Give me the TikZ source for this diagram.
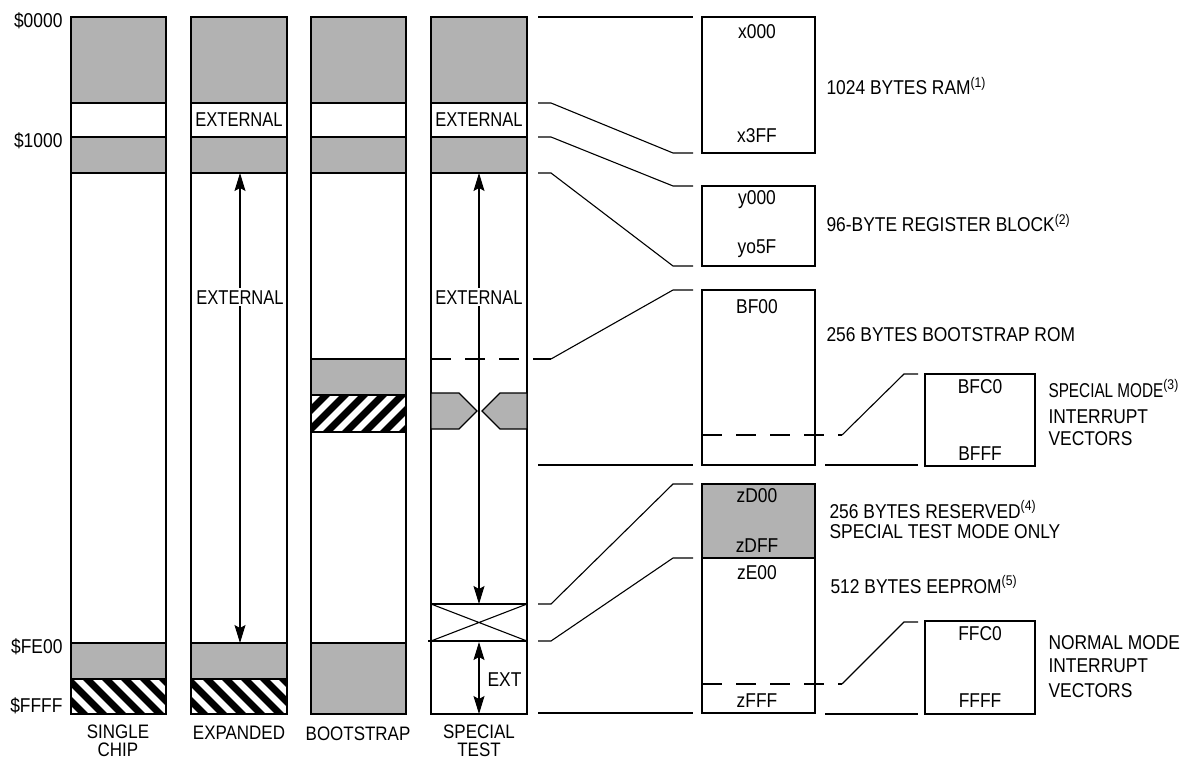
\documentclass[tikz,border=0pt]{standalone}
\usepackage{fontspec}
\usepackage{graphicx}
\setmainfont{Liberation Sans}[FakeStretch=0.87]
\usetikzlibrary{arrows.meta}
\definecolor{memgray}{gray}{0.70}
\begin{document}
\begin{tikzpicture}[x=1pt,y=-1pt, line width=1.1pt,
  lbl/.style={font=\fontsize{20}{24}\selectfont, inner sep=0pt, anchor=base},
  lblw/.style={lbl, anchor=base west},
  lble/.style={lbl, anchor=base east},
  ttl/.style={font=\fontsize{19.5}{18}\selectfont, inner sep=0pt, anchor=north, align=center},
  memfill/.style={fill=memgray},
  dsh/.style={dash pattern=on 20pt off 14pt},
  arr/.style={{Stealth[length=18pt,width=11pt,inset=3pt]}-{Stealth[length=18pt,width=11pt,inset=3pt]}},
  stripe/.style={line width=7pt, line cap=butt}]
\useasboundingbox (0,0) rectangle (1198,759);

% ---------- column 1: SINGLE CHIP ----------
\fill[memfill] (71,17) rectangle (166,103);
\fill[memfill] (71,137) rectangle (166,173);
\fill[memfill] (71,643) rectangle (166,679);
\begin{scope}
  \clip (71,679) rectangle (166,714);
  \foreach \i in {11,30,...,200} \draw[stripe] (\i-20,659) -- (\i+55,734);
\end{scope}
\draw (71,17) rectangle (166,714);
\foreach \yy in {103,137,173,643,679} \draw (71,\yy) -- (166,\yy);

% ---------- column 2: EXPANDED ----------
\fill[memfill] (191,17) rectangle (287,103);
\fill[memfill] (191,137) rectangle (287,173);
\fill[memfill] (191,643) rectangle (287,679);
\begin{scope}
  \clip (191,679) rectangle (287,714);
  \foreach \i in {131,150,...,320} \draw[stripe] (\i-20,659) -- (\i+55,734);
\end{scope}
\draw (191,17) rectangle (287,714);
\foreach \yy in {103,137,173,643,679} \draw (191,\yy) -- (287,\yy);
\node[lbl] (ext2a) at (239,127) {\scalebox{0.95}[1]{EXTERNAL}};
\coordinate (e2top) at (240,173);
\coordinate (e2bot) at (240,643);
\draw[arr] (e2top) -- (e2bot);
\node[lbl, fill=white, inner sep=2pt] (ext2b) at (240,304) {\scalebox{0.95}[1]{EXTERNAL}};

% ---------- column 3: BOOTSTRAP ----------
\fill[memfill] (311,17) rectangle (406,103);
\fill[memfill] (311,137) rectangle (406,173);
\fill[memfill] (311,359) rectangle (406,395);
\fill[memfill] (311,643) rectangle (406,714);
\begin{scope}
  \clip (311,395) rectangle (406,432);
  \foreach \i in {231,250,...,430} \draw[stripe] (\i,452) -- (\i+75,377);
\end{scope}
\draw (311,17) rectangle (406,714);
\foreach \yy in {103,137,173,359,395,432,643} \draw (311,\yy) -- (406,\yy);

% ---------- column 4: SPECIAL TEST ----------
\fill[memfill] (431,17) rectangle (527,103);
\fill[memfill] (431,137) rectangle (527,173);
\draw (431,17) rectangle (527,714);
\foreach \yy in {103,137,173,604} \draw (431,\yy) -- (527,\yy);
\draw (428,641) -- (527,641);
\draw (431,604) -- (527,641) (431,641) -- (527,604);
\node[lbl] (ext4a) at (479,127) {\scalebox{0.95}[1]{EXTERNAL}};
\draw[fill=memgray] (431,393) -- (459,393) -- (477,411) -- (459,429) -- (431,429) -- cycle;
\draw[fill=memgray] (527,393) -- (500,393) -- (482,411) -- (500,429) -- (527,429) -- cycle;
\coordinate (e4top) at (479,173);
\coordinate (e4bot) at (479,604);
\draw[arr] (e4top) -- (e4bot);
\node[lbl, fill=white, inner sep=2pt] (ext4b) at (479,304) {\scalebox{0.95}[1]{EXTERNAL}};
\coordinate (x4top) at (479,642);
\coordinate (x4bot) at (479,714);
\draw[arr] (x4top) -- (x4bot);
\node[lblw] (ext4c) at (487,686) {EXT};

% ---------- address labels ----------
\node[lble] (a0) at (63,28) {\$0000};
\node[lble] (a1) at (63,148) {\$1000};
\node[lble] (a2) at (63,653) {\$FE00};
\node[lble] (a3) at (63,712) {\$FFFF};

% ---------- column titles ----------
\node[ttl] (t1) at (118,724) {SINGLE\\CHIP};
\node[ttl] (t2) at (239,726) {EXPANDED};
\node[ttl] (t3) at (358,726) {BOOTSTRAP};
\node[ttl] (t4) at (479,724) {SPECIAL\\TEST};

% ---------- connector lines ----------
\draw (538,17) -- (693,17);
\draw (538,103) -- (551,103) -- (673,153) -- (693,153);
\draw (538,137) -- (551,137) -- (673,186) -- (693,186);
\draw (538,173) -- (551,173) -- (673,266) -- (693,266);
\draw[dsh] (431,359) -- (551,359);
\draw (551,359) -- (673,290) -- (693,290);
\draw (538,465) -- (693,465);
\draw (538,604) -- (551,604) -- (673,484) -- (693,484);
\draw (538,641) -- (551,641) -- (673,558) -- (693,558);
\draw (538,713) -- (693,713);

% ---------- detail boxes ----------
\draw (702,17) rectangle (815,153);
\node[lbl] (b1a) at (757,39) {x000};
\node[lbl] (b1b) at (757,143) {x3FF};

\draw (702,186) rectangle (815,266);
\node[lbl] (b2a) at (757,205) {y000};
\node[lbl] (b2b) at (757,253) {yo5F};

\draw (702,290) rectangle (815,465);
\node[lbl] (b3a) at (757,313) {BF00};
\draw[dsh] (702,435) -- (842,435);
\draw (842,435) -- (904,374) -- (918,374);
\draw (825,465) -- (918,465);
\draw (925,374) rectangle (1035,466);
\node[lbl] (b4a) at (980,393) {BFC0};
\node[lbl] (b4b) at (980,460) {BFFF};

\fill[memfill] (702,484) rectangle (815,558);
\draw (702,484) rectangle (815,713);
\draw (702,558) -- (815,558);
\node[lbl] (b5a) at (757,502) {zD00};
\node[lbl] (b5b) at (757,552) {zDFF};
\node[lbl] (b5c) at (757,579) {zE00};
\node[lbl] (b5d) at (757,707) {zFFF};
\draw[dsh] (702,684) -- (842,684);
\draw (842,684) -- (904,622) -- (918,622);
\draw (825,714) -- (918,714);
\draw (925,621) rectangle (1035,714);
\node[lbl] (b6a) at (980,640) {FFC0};
\node[lbl] (b6b) at (980,707) {FFFF};

% ---------- descriptions ----------
\node[lblw] (d1) at (826,95) {1024 BYTES RAM\textsuperscript{(1)}};
\node[lblw] (d2) at (826,232) {96-BYTE REGISTER BLOCK\textsuperscript{(2)}};
\node[lblw] (d3) at (826,341) {256 BYTES BOOTSTRAP ROM};
\node[lblw] (d4a) at (1048,397) {\scalebox{0.88}[1]{SPECIAL MODE}\textsuperscript{(3)}};
\node[lblw] (d4b) at (1048,423) {INTERRUPT};
\node[lblw] (d4c) at (1048,445) {VECTORS};
\node[lblw] (d5a) at (829,518) {256 BYTES RESERVED\textsuperscript{(4)}};
\node[lblw] (d5b) at (829,538) {SPECIAL TEST MODE ONLY};
\node[lblw] (d6) at (830,593) {512 BYTES EEPROM\textsuperscript{(5)}};
\node[lblw] (d7a) at (1048,649) {NORMAL MODE};
\node[lblw] (d7b) at (1048,672) {INTERRUPT};
\node[lblw] (d7c) at (1048,697) {VECTORS};
\end{tikzpicture}
\end{document}
